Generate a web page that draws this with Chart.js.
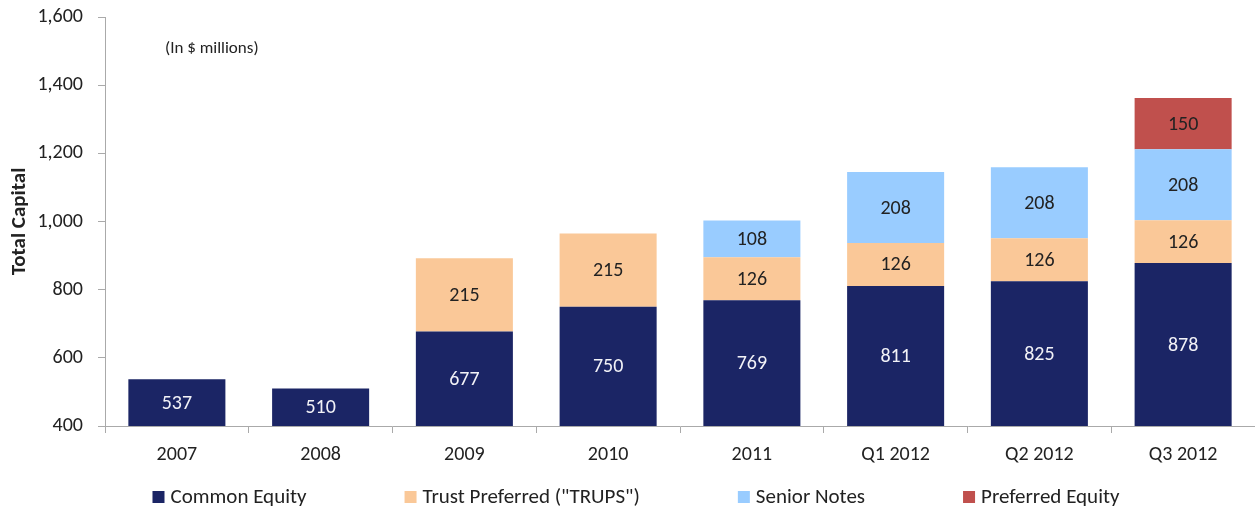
<!DOCTYPE html>
<html><head><meta charset="utf-8">
<script src="https://cdn.jsdelivr.net/npm/chart.js@4/dist/chart.umd.min.js"></script>
<style>html,body{margin:0;padding:0;background:#fff}#wrap{width:1255px;height:511px}</style>
</head><body><div id="wrap"><canvas id="c" width="1255" height="511"></canvas></div>
<script>
const categories = ["2007","2008","2009","2010","2011","Q1 2012","Q2 2012","Q3 2012"];
const commonEquity = [537,510,677,750,769,811,825,878];
const trups = [0,0,215,215,126,126,126,126];
const seniorNotes = [0,0,0,0,108,208,208,208];
const preferredEquity = [0,0,0,0,0,0,0,150];
const seriesNames = ["Common Equity","Trust Preferred (\"TRUPS\")","Senior Notes","Preferred Equity"];
const yTicks = [400,600,800,1000,1200,1400,1600];

const FONT = "Carlito, Lato, 'Liberation Sans', sans-serif";
const colors = ["#1B2565","#FAC898","#99CCFF","#C0504D"];
const labelColors = ["#f2f2f7","#222222","#222222","#222222"];

const labelPlugin = {
  id:'barLabels',
  afterDatasetsDraw(chart){
    const ctx = chart.ctx;
    ctx.save();
    ctx.font = "20px " + FONT;
    ctx.textAlign='center'; ctx.textBaseline='middle';
    chart.data.datasets.forEach((ds,i)=>{
      const meta = chart.getDatasetMeta(i);
      meta.data.forEach((bar,j)=>{
        const v = ds.data[j];
        if(!v) return;
        const base = i===0 ? chart.scales.y.getPixelForValue(400) : bar.base;
        ctx.fillStyle = labelColors[i];
        ctx.fillText(String(v), bar.x, (bar.y+base)/2+1);
      });
    });
    ctx.fillStyle="#222";
    ctx.font = "17px " + FONT;
    ctx.textAlign='left';
    ctx.fillText("(In $ millions)", 165, 49);
    // legend
    ctx.font = "21px " + FONT;
    const box=12, gapText=6, gap=98;
    const widths = chart.data.datasets.map(ds=>box+gapText+ctx.measureText(ds.label).width);
    const total = widths.reduce((a,b)=>a+b,0)+gap*(widths.length-1);
    let x = 636 - total/2;
    const y = 497;
    chart.data.datasets.forEach((ds,i)=>{
      ctx.fillStyle = ds.backgroundColor;
      ctx.fillRect(x, y-box/2, box, box);
      ctx.fillStyle = '#222';
      ctx.fillText(ds.label, x+box+gapText, y+1);
      x += widths[i]+gap;
    });
    ctx.restore();
  }
};

new Chart(document.getElementById('c'),{
  type:'bar',
  data:{
    labels:categories,
    datasets:[commonEquity,trups,seniorNotes,preferredEquity].map((d,i)=>({
      label:seriesNames[i], data:d, backgroundColor:colors[i], borderWidth:0,
      categoryPercentage:0.675, barPercentage:1
    }))
  },
  options:{
    responsive:false, animation:false,
    layout:{padding:{left:7,right:0,top:17,bottom:34}},
    plugins:{
      tooltip:{enabled:false},
      legend:{display:false}
    },
    scales:{
      x:{stacked:true,
        grid:{display:true,drawOnChartArea:false,tickLength:7,color:'#aaa',offset:true},
        border:{color:'#aaa'},
        ticks:{color:'#222',font:{family:FONT,size:20},padding:10}},
      y:{stacked:true,min:400,max:1600,
        afterBuildTicks(ax){ax.ticks=yTicks.map(v=>({value:v}));},
        afterFit(s){ s.width = 98; s.paddingTop = 11; s.paddingBottom = 11; },
        grid:{display:true,drawOnChartArea:false,tickLength:7,color:'#aaa'},
        border:{color:'#aaa'},
        title:{display:true,text:'Total Capital',color:'#222',font:{family:FONT,size:21,weight:'bold'},padding:{top:0,bottom:0}},
        ticks:{color:'#222',font:{family:FONT,size:20},padding:15,
          callback:v=>v.toLocaleString('en-US')}}
    }
  },
  plugins:[labelPlugin]
});
</script></body></html>
